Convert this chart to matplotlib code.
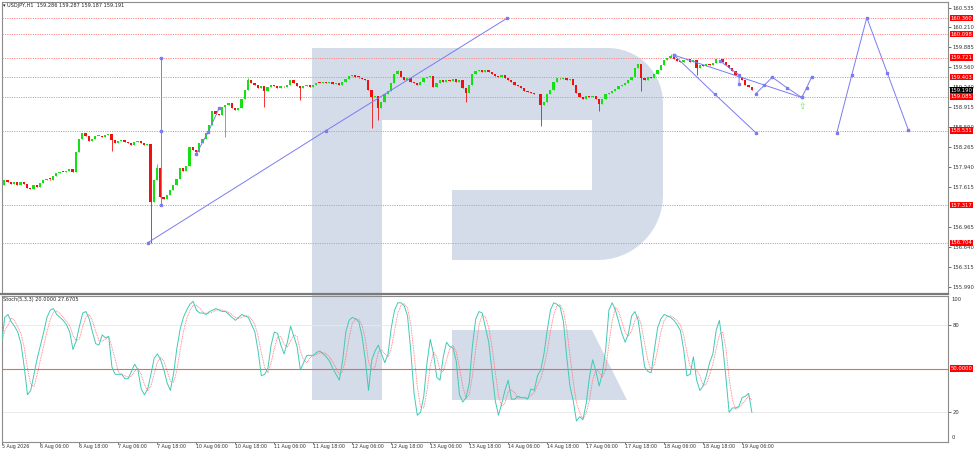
import numpy as np
import pandas as pd
import matplotlib
matplotlib.use("Agg")
import matplotlib.pyplot as plt
import matplotlib.transforms as mtransforms
from matplotlib.path import Path
from matplotlib.patches import PathPatch
from matplotlib.lines import Line2D

W, H = 974, 451

## data (USDJPY H1)
first_open = 157.40
closes = [
    157.64, 157.72, 157.70, 157.66, 157.69, 157.64, 157.70, 157.66, 157.60, 157.58,
    157.64, 157.62, 157.68, 157.72, 157.74, 157.73, 157.80, 157.84, 157.86, 157.85,
    157.87, 157.90, 157.86, 158.18, 158.40, 158.50, 158.44, 158.36, 158.40, 158.44,
    158.45, 158.43, 158.46, 158.48, 158.38, 158.33, 158.36, 158.38, 158.35, 158.33,
    158.30, 158.34, 158.36, 158.33, 158.30, 158.32, 157.37, 157.73, 157.93, 157.45,
    157.42, 157.48, 157.56, 157.64, 157.74, 157.93, 157.88, 157.96, 158.27, 158.22,
    158.18, 158.33, 158.40, 158.50, 158.63, 158.85, 158.80, 158.78, 158.92, 158.95,
    158.98, 158.90, 158.86, 158.90, 159.05, 159.20, 159.36, 159.30, 159.28, 159.22,
    159.25, 159.18, 159.24, 159.28, 159.26, 159.22, 159.25, 159.24, 159.27, 159.36,
    159.30, 159.26, 159.22, 159.25, 159.27, 159.24, 159.28, 159.31, 159.30, 159.33,
    159.30, 159.32, 159.29, 159.30, 159.27, 159.32, 159.37, 159.42, 159.43, 159.40,
    159.39, 159.37, 159.35, 159.19, 159.08, 159.10, 158.90, 159.00, 159.12, 159.18,
    159.30, 159.45, 159.50, 159.40, 159.36, 159.38, 159.33, 159.30, 159.27, 159.33,
    159.38, 159.40, 159.42, 159.24, 159.30, 159.35, 159.32, 159.36, 159.34, 159.37,
    159.33, 159.35, 159.22, 159.14, 159.27, 159.45, 159.50, 159.52, 159.49, 159.51,
    159.48, 159.45, 159.42, 159.40, 159.43, 159.38, 159.35, 159.33, 159.28, 159.25,
    159.22, 159.18, 159.16, 159.14, 159.12, 159.13, 158.95, 158.99, 159.12, 159.20,
    159.32, 159.38, 159.37, 159.38, 159.36, 159.37, 159.28, 159.15, 159.08, 159.05,
    159.10, 159.07, 159.09, 159.04, 158.96, 159.05, 159.13, 159.15, 159.18, 159.21,
    159.25, 159.28, 159.30, 159.35, 159.40, 159.55, 159.62, 159.38, 159.36, 159.40,
    159.38, 159.45, 159.52, 159.60, 159.68, 159.72, 159.74, 159.70, 159.66, 159.64,
    159.68, 159.70, 159.65, 159.68, 159.55, 159.60, 159.58, 159.62, 159.60, 159.63,
    159.69, 159.70, 159.64, 159.60, 159.55, 159.50, 159.44, 159.40, 159.36, 159.28,
    159.24, 159.19,
]
# long shadows that stick out of the bodies
wick_lows = {34: 158.20, 46: 156.70, 69: 158.43, 81: 158.91, 92: 159.03, 114: 158.57,
             116: 158.70, 143: 159.00, 166: 158.60, 184: 158.85, 197: 159.18, 214: 159.44}
wick_highs = {48: 157.98, 76: 159.38, 122: 159.52, 206: 159.77}

stoch_k = [
    67, 85, 87, 82, 79, 75, 67, 51, 32, 35, 46, 57, 66, 75, 85, 90, 91, 87, 85, 83,
    80, 75, 63, 69, 79, 88, 89, 84, 75, 67, 66, 73, 71, 72, 51, 46, 46, 46, 43, 43,
    48, 53, 49, 36, 32, 36, 46, 57, 60, 56, 49, 40, 35, 47, 64, 77, 85, 90, 94, 96,
    90, 88, 88, 87, 89, 90, 91, 90, 89, 89, 87, 85, 83, 85, 87, 86, 85, 80, 75, 62,
    45, 46, 50, 66, 75, 74, 66, 60, 68, 79, 72, 65, 49, 54, 59, 59, 59, 61, 62, 60,
    58, 55, 50, 46, 42, 55, 75, 83, 85, 84, 82, 72, 56, 35, 56, 62, 66, 60, 54, 60,
    78, 90, 95, 95, 93, 86, 62, 33, 18, 20, 31, 54, 70, 60, 44, 42, 58, 68, 65, 64,
    55, 32, 27, 30, 40, 66, 84, 89, 88, 78, 68, 48, 28, 18, 26, 35, 42, 29, 29, 31,
    30, 30, 29, 36, 35, 45, 49, 60, 76, 90, 95, 94, 92, 82, 58, 38, 28, 14, 17, 15,
    26, 44, 56, 48, 38, 47, 63, 90, 95, 90, 82, 74, 68, 74, 86, 89, 83, 67, 51, 48,
    47, 63, 78, 84, 87, 86, 85, 83, 80, 76, 63, 45, 46, 58, 42, 35, 38, 45, 54, 60,
    76, 83, 66, 44, 20, 23, 23, 24, 30, 31, 33, 20,
]

x_labels = ["5 Aug 2026", "6 Aug 06:00", "6 Aug 18:00", "7 Aug 06:00", "7 Aug 18:00",
            "10 Aug 06:00", "10 Aug 18:00", "11 Aug 06:00", "11 Aug 18:00", "12 Aug 06:00",
            "12 Aug 18:00", "13 Aug 06:00", "13 Aug 18:00", "14 Aug 06:00", "14 Aug 18:00",
            "17 Aug 06:00", "17 Aug 18:00", "18 Aug 06:00", "18 Aug 18:00", "19 Aug 06:00"]
price_ticks = [155.990, 156.315, 156.640, 156.965, 157.615, 157.940, 158.265, 158.590,
               158.915, 159.240, 159.560, 159.885, 160.210, 160.535]
levels = [160.360, 160.098, 159.721, 159.403, 159.085, 158.531, 157.317, 156.704]
current_price = 159.190

# drawn objects: (bar position, price)
trend_lines = [
    ([49.2, 49.2, 49.2], [159.721, 158.531, 157.317]),
    ([45.1, 100.0, 155.7], [156.704, 158.531, 160.360]),
    ([60.0, 63.8, 67.1], [158.145, 158.513, 158.894]),
    ([207.1, 219.7, 232.2], [159.76, 159.12, 158.50]),
    ([207.1, 246.4], [159.76, 159.07]),
    ([221.2, 227.1, 227.1], [159.665, 159.437, 159.29]),
    ([232.2, 234.9, 237.3, 241.8, 246.4, 247.9, 249.4],
     [159.13, 159.27, 159.40, 159.23, 159.07, 159.23, 159.40]),
    ([257.2, 261.8, 266.4, 272.7, 279.2], [158.50, 159.44, 160.37, 159.47, 158.54]),
]
buy_arrow = (246.4, 158.93)

## layout (pixels of the 974x451 picture)
bar_px = 3.25
x0_px = 1.0
left_px, right_px = 1.5, 948.0
main_top, main_bot = 2.0, 293.5
st_top, st_bot = 295.5, 441.5
py0, ppx = 155.99, 61.43   # price 155.99 at y=286.7, 61.43 px per yen
py_ref = 286.7

def price_at(y):
    return py0 + (py_ref - y) / ppx

def fbox(top, bot):
    return [left_px / W, 1 - bot / H, (right_px - left_px) / W, (bot - top) / H]

xlim = ((left_px - x0_px) / bar_px, (right_px - x0_px) / bar_px)

fig = plt.figure(figsize=(W / 100, H / 100), dpi=100)
fig.patch.set_facecolor("white")

## watermark logo behind both panels
def arc(cx, cy, r, a0, a1, n=16):
    a = np.radians(np.linspace(a0, a1, n))
    return list(zip(cx + r * np.cos(a), cy + r * np.sin(a)))

outline = [(312, 48)] + arc(608, 103, 55, -90, 0) + arc(598, 195, 65, 0, 90) + \
          [(452, 260), (452, 190), (592, 190), (592, 120), (382, 120), (382, 400), (312, 400), (312, 48)]
leg = [(452, 330), (592, 330), (627, 400), (452, 400), (452, 330)]
logo_col = "#d3dce8"
for shape in (outline, leg):
    verts = [(x / W, 1 - y / H) for x, y in shape]
    fig.add_artist(PathPatch(Path(verts), transform=fig.transFigure,
                             facecolor=logo_col, edgecolor="none", zorder=0))

## main price panel
ax = fig.add_axes(fbox(main_top, main_bot))
ax.set_facecolor("none")
ax.set_zorder(1)
ax.set_xlim(*xlim)
ax.set_ylim(price_at(main_bot), price_at(main_top))

idx = np.arange(len(closes))
c = np.array(closes)
o = np.concatenate([[first_open], c[:-1]])
hi = np.maximum(o, c)
lo = np.minimum(o, c)
for k, v in wick_lows.items():
    lo[k] = v
for k, v in wick_highs.items():
    hi[k] = v
up = c >= o
cols = np.where(up, "#14e014", "#f01010")
body = c - o
body = np.where(np.abs(body) < 0.012, 0.012, body)
ax.vlines(idx, lo, hi, colors=cols, lw=0.6, zorder=3)
ax.bar(idx, body, bottom=o, width=0.62, color=cols, linewidth=0, zorder=4)

for lvl in levels:
    ax.axhline(lvl, color="#ff8a8a", lw=0.7, ls=(0, (1.2, 1.2)), zorder=2)

blue = "#7b7bf2"
for xs, ys in trend_lines:
    ax.plot(xs, ys, color=blue, lw=0.7, marker="s", ms=1.8, mfc=blue, mec=blue, zorder=5)
ax.text(buy_arrow[0], buy_arrow[1], "\u21e7", color="#5de65d", fontsize=6.5,
        ha="center", va="center", zorder=6)

ax.yaxis.tick_right()
ax.set_yticks(price_ticks)
ax.set_yticklabels([f"{t:.3f}" for t in price_ticks])
ax.tick_params(axis="y", length=2, width=0.5, pad=1, labelsize=3.8, colors="#333333")
ax.set_xticks([])
for s in ax.spines.values():
    s.set_color("#8c8c8c")
    s.set_linewidth(0.8)
ax.spines["bottom"].set_visible(False)

ytrans = mtransforms.blended_transform_factory(ax.transAxes, ax.transData)
for lvl in levels:
    ax.text(1.0025, lvl, f"{lvl:.3f}", transform=ytrans, ha="left", va="center",
            fontsize=3.8, color="white", clip_on=False, zorder=7,
            bbox=dict(boxstyle="square,pad=0.12", fc="#ff0000", ec="none"))
ax.text(1.0025, current_price, f"{current_price:.3f}", transform=ytrans, ha="left",
        va="center", fontsize=3.8, color="white", clip_on=False, zorder=8,
        bbox=dict(boxstyle="square,pad=0.12", fc="#000000", ec="none"))

## stochastic panel
ax2 = fig.add_axes(fbox(st_top, st_bot))
ax2.set_facecolor("none")
ax2.set_zorder(1)
ax2.set_xlim(*xlim)
ax2.set_ylim(0, 100)
k = pd.Series(stoch_k, dtype=float)
d = k.rolling(3, min_periods=1).mean()   # signal line = SMA(3) of %K
ax2.axhline(80, color="#e8e8e8", lw=0.6, zorder=1)
ax2.axhline(20, color="#e8e8e8", lw=0.6, zorder=1)
ax2.axhline(50, color="#ff5c5c", lw=0.8, zorder=2)
ax2.plot(idx, k, color="#42c9b5", lw=0.7, zorder=4)
ax2.plot(idx, d, color="#ff6b6b", lw=0.6, ls=(0, (1, 1)), zorder=3)

ax2.yaxis.tick_right()
ax2.set_yticks([20, 80])
ax2.set_yticklabels(["20", "80"])
ax2.tick_params(axis="y", length=2, width=0.5, pad=1, labelsize=3.8, colors="#333333")
ytrans2 = mtransforms.blended_transform_factory(ax2.transAxes, ax2.transData)
ax2.text(1.0035, 99, "100", transform=ytrans2, ha="left", va="top",
         fontsize=3.8, color="#333333", clip_on=False)
ax2.text(1.0035, 1, "0", transform=ytrans2, ha="left", va="bottom",
         fontsize=3.8, color="#333333", clip_on=False)
ax2.text(1.0025, 50, "50.0000", transform=ytrans2, ha="left", va="center",
         fontsize=3.8, color="white", clip_on=False, zorder=7,
         bbox=dict(boxstyle="square,pad=0.12", fc="#ff0000", ec="none"))

ax2.set_xticks(np.arange(len(x_labels)) * 12)
ax2.set_xticklabels(x_labels, ha="left")
ax2.tick_params(axis="x", length=1.5, width=0.5, pad=0.6, labelsize=3.4, colors="#333333")
for s in ax2.spines.values():
    s.set_color("#8c8c8c")
    s.set_linewidth(0.8)

## panel separator and captions
fig.add_artist(Line2D([0, right_px / W], [1 - 294.4 / H] * 2, transform=fig.transFigure,
                      color="#7a7a7a", lw=1.6, zorder=3))
fig.text(3 / W, 1 - 6 / H, "\u25be USDJPY,H1  159.286 159.287 159.187 159.191",
         fontsize=3.6, va="center", ha="left", color="#222222", zorder=9)
fig.text(3 / W, 1 - 299.5 / H, "Stoch(5,3,3) 20.0000 27.6705",
         fontsize=3.6, va="center", ha="left", color="#222222", zorder=9)

fig.savefig("out.png", dpi=100, facecolor="white")
